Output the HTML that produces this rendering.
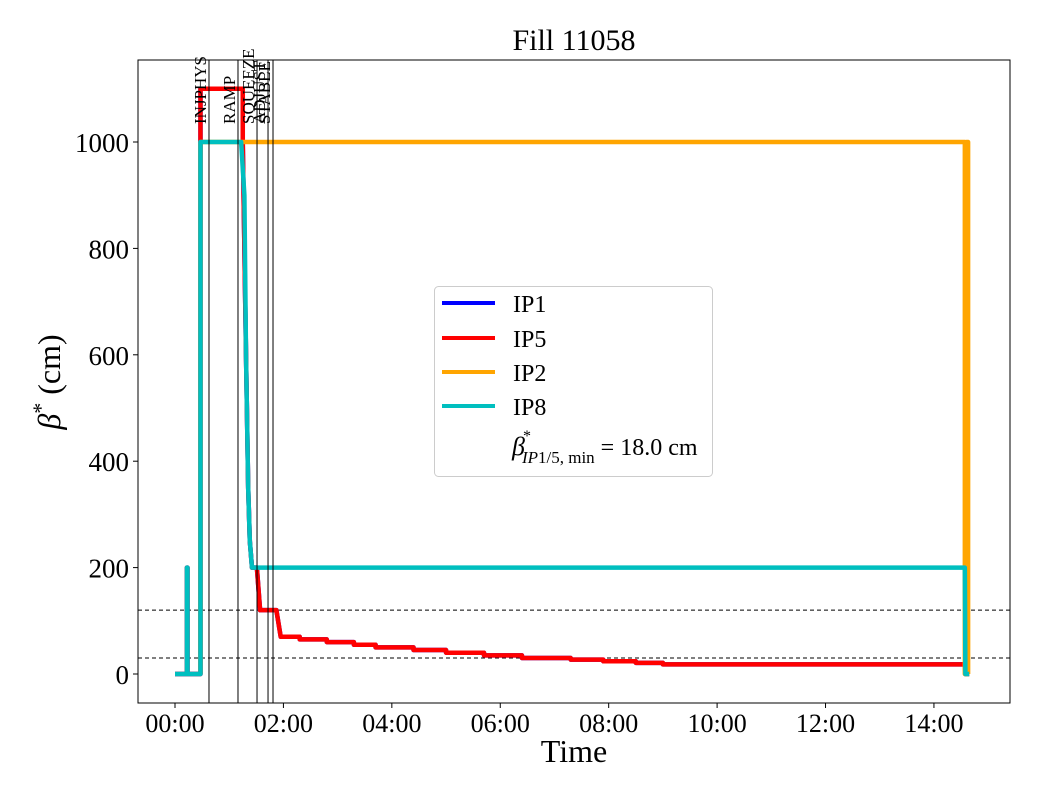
<!DOCTYPE html>
<html><head><meta charset="utf-8"><style>
body{margin:0;background:#fff}
text{font-family:"Liberation Serif",serif;fill:#000}
</style></head><body>
<svg id="chart" width="1040" height="800" xmlns="http://www.w3.org/2000/svg">
<rect x="0" y="0" width="1040" height="800" fill="#fff"/>
<text x="574" y="50" font-size="30" text-anchor="middle">Fill 11058</text>
<text x="574" y="762" font-size="32" text-anchor="middle">Time</text>
<text transform="translate(60,382) rotate(-90)" font-size="32" text-anchor="middle"><tspan font-style="italic">β</tspan><tspan dy="-12" font-size="22">*</tspan><tspan dy="12"> (cm)</tspan></text>
<g id="plot"></g>
<rect x="138" y="60" width="872" height="643" fill="none" stroke="#000" stroke-width="1"/>
<g>
<rect x="434.5" y="286.5" width="278" height="190" rx="4" fill="#fff" stroke="#ccc"/>
<line x1="442" y1="303" x2="495" y2="303" stroke="#0000ff" stroke-width="4"/>
<text x="513" y="312" font-size="24">IP1</text>
<line x1="442" y1="338" x2="495" y2="338" stroke="#ff0000" stroke-width="4"/>
<text x="513" y="347" font-size="24">IP5</text>
<line x1="442" y1="372" x2="495" y2="372" stroke="#ffa500" stroke-width="4"/>
<text x="513" y="381" font-size="24">IP2</text>
<line x1="442" y1="406" x2="495" y2="406" stroke="#00bfbf" stroke-width="4"/>
<text x="513" y="415" font-size="24">IP8</text>
<text x="512" y="455" font-size="26"><tspan font-style="italic">β</tspan><tspan dx="-2" dy="-14" font-size="16">*</tspan><tspan dx="-9" dy="22" font-size="17" font-style="italic">IP</tspan><tspan font-size="17">1/5, min</tspan><tspan dy="-8" font-size="24"> = 18.0 cm</tspan></text>
</g>
</svg>
<script>
const yTicks=[0,200,400,600,800,1000];
const xTickHours=[0,2,4,6,8,10,12,14];
const xTickLabels=["00:00","02:00","04:00","06:00","08:00","10:00","12:00","14:00"];
const phaseNames=["INJPHYS","RAMP","SQUEEZE","ADJUST","STABLE"];
const phaseHours=[0.627,1.162,1.513,1.716,1.808];
const refLevels=[120,30];
const ip8T=[0,0.22,0.22,0.23,0.23,0.47,0.47,1.22,1.28,1.31,1.35,1.38,1.42,14.57,14.58,14.65];
const ip8V=[0,0,200,200,0,0,1000,1000,900,600,350,250,200,200,0,0];
const ip5T=[0,0.22,0.22,0.23,0.23,0.47,0.47,1.25,1.25,1.31,1.35,1.38,1.42,1.51,1.57,1.64,1.87,1.95,2.3,2.3,2.8,2.8,3.3,3.3,3.7,3.7,4.4,4.4,5.0,5.0,5.7,5.7,6.4,6.4,7.3,7.3,7.9,7.9,8.5,8.5,9.0,9.0,14.57,14.58,14.65];
const ip5V=[0,0,200,200,0,0,1100,1100,1000,600,350,250,200,200,120,120,120,70,70,65,65,60,60,55,55,50,50,45,45,40,40,35,35,30,30,27,27,24,24,21,21,18,18,0,0];
const ip1T=ip5T, ip1V=ip5V;
const ip2T=[0.47,0.47,14.57,14.57,14.6,14.6,14.63,14.63,14.65];
const ip2V=[0,1000,1000,0,0,1000,1000,0,0];
const NS='http://www.w3.org/2000/svg';
const X=h=>175+h*54.21, Y=v=>674-v*0.532;
const plot=document.getElementById('plot');
function mk(tag,attrs){const e=document.createElementNS(NS,tag);for(const k in attrs)e.setAttribute(k,attrs[k]);plot.appendChild(e);return e;}
yTicks.forEach(v=>{
 const t=mk('line',{x1:133,x2:138,y1:Y(v),y2:Y(v),stroke:'#000'});
 
 
 const l=mk('text',{x:129,y:Y(v)+10,'font-size':27,'text-anchor':'end'});l.textContent=v;
 
 
});
xTickHours.forEach((h,i)=>{
 const t=mk('line',{x1:X(h),x2:X(h),y1:703,y2:708,stroke:'#000'});
 
 
 const l=mk('text',{x:X(h),y:732,'font-size':26,'text-anchor':'middle'});l.textContent=xTickLabels[i];
 
 
});
refLevels.forEach(v=>{
 const l=mk('line',{x1:138,x2:1010,y1:Y(v),y2:Y(v),stroke:'#000','stroke-dasharray':'4,3','stroke-width':1});
 
 
});
function series(T,V,color,name){
 const p=mk('polyline',{points:T.map((t,i)=>X(t)+','+Y(V[i])).join(' '),fill:'none',stroke:color,'stroke-width':4.5,'stroke-linejoin':'round'});
 
 
}
series(ip1T,ip1V,'#0000ff','series-ip1');
series(ip5T,ip5V,'#ff0000','series-ip5');
series(ip2T,ip2V,'#ffa500','series-ip2');
series(ip8T,ip8V,'#00bfbf','series-ip8');
phaseHours.forEach((h,i)=>{
 const l=mk('line',{x1:X(h),x2:X(h),y1:60,y2:703,stroke:'#000','stroke-width':1});
 
 
 const x=X(h)-3;
 const t=mk('text',{x:0,y:0,'font-size':17,transform:`translate(${x},124) rotate(-90)`});t.textContent=phaseNames[i];
 
 
});
</script>
</body></html>
